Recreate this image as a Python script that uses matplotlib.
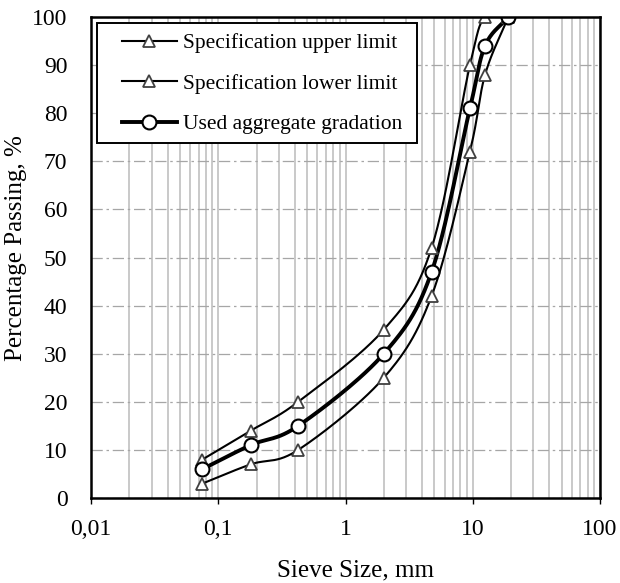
import numpy as np
import matplotlib
matplotlib.use("Agg")
import matplotlib.pyplot as plt
from matplotlib.patches import Rectangle
from matplotlib.ticker import FixedLocator, FuncFormatter, LogLocator, NullFormatter

plt.rcParams['font.family'] = ['Liberation Serif', 'DejaVu Serif']

# sieve sizes (mm) and percentage passing
sieve = [0.075, 0.18, 0.425, 2.0, 4.75, 9.5, 12.5, 19.0]
upper = [8, 14, 20, 35, 52, 90, 100, 100]
lower = [3, 7, 10, 25, 42, 72, 88, 100]
used = [6, 11, 15, 30, 47, 81, 94, 100]

x_ticks = [0.01, 0.1, 1, 10, 100]
x_labels = ['0,01', '0,1', '1', '10', '100']


# smooth line like Excel (Catmull-Rom through the points, in log-x space)
def smooth(xs, ys, n=30):
    lx = np.log10(np.array(xs, float))
    y = np.array(ys, float)
    px = np.concatenate([[2 * lx[0] - lx[1]], lx, [2 * lx[-1] - lx[-2]]])
    py = np.concatenate([[2 * y[0] - y[1]], y, [2 * y[-1] - y[-2]]])
    out_x, out_y = [], []
    t = np.linspace(0, 1, n)
    for i in range(1, len(px) - 2):
        for p, o in ((px, out_x), (py, out_y)):
            p0, p1, p2, p3 = p[i - 1], p[i], p[i + 1], p[i + 2]
            seg = 0.5 * ((2 * p1) + (-p0 + p2) * t + (2 * p0 - 5 * p1 + 4 * p2 - p3) * t ** 2
                         + (-p0 + 3 * p1 - 3 * p2 + p3) * t ** 3)
            o.extend(seg)
    return 10 ** np.array(out_x), np.array(out_y)


W, H = 620, 583
fig = plt.figure(figsize=(W / 100, H / 100), dpi=100)
ax = fig.add_axes([91 / W, 85 / H, 509 / W, 481 / H])

handles = []
for ys, lw, lab, mk in [(upper, 1.5, 'Specification upper limit', '^'),
                        (lower, 1.5, 'Specification lower limit', '^'),
                        (used, 2.8, 'Used aggregate gradation', 'o')]:
    sx, sy = smooth(sieve, ys)
    ax.plot(sx, sy, color='black', lw=lw, zorder=3)
    if mk == '^':
        style = dict(marker='^', ms=9, mfc='white', mec='#404040', mew=1.3)
    else:
        style = dict(marker='o', ms=10, mfc='white', mec='black', mew=1.5)
    ax.plot(sieve, ys, ls='none', zorder=4, **style)
    h, = ax.plot([], [], color='black', lw=lw, label=lab, **style)
    handles.append(h)

ax.set_xscale('log')
ax.set_xlim(0.01, 100)
ax.set_ylim(0, 100)
ax.set_yticks(range(0, 101, 10))
ax.xaxis.set_major_locator(FixedLocator(x_ticks))
ax.xaxis.set_major_formatter(FuncFormatter(lambda v, p: x_labels[x_ticks.index(v)] if v in x_ticks else ''))
ax.xaxis.set_minor_locator(LogLocator(base=10, subs=np.arange(2, 10)))
ax.xaxis.set_minor_formatter(NullFormatter())

ax.grid(axis='x', which='both', color='#c0c0c0', lw=1.2, ls='-', zorder=1)
ax.grid(axis='y', which='major', color='#a6a6a6', lw=0.9, ls=(0, (9, 3, 2, 3)), zorder=1)
ax.tick_params(axis='y', which='both', length=0, labelsize=17, pad=17)
ax.tick_params(axis='x', which='major', length=4, width=1, direction='out', labelsize=17, pad=11)
ax.tick_params(axis='x', which='minor', length=0)

for s in ax.spines.values():
    s.set_linewidth(1.8)
    s.set_color('black')
    s.set_zorder(5)

ax.set_xlabel('Sieve Size, mm', fontsize=18)
ax.set_ylabel('Percentage Passing, %', fontsize=18)
ax.xaxis.set_label_coords(0.52, -0.127)
ax.yaxis.set_label_coords(-0.125, 0.52)

# legend box as in the reference, with the entries placed inside it
fig.patches.append(Rectangle((97 / W, 1 - 143 / H), 320 / W, 120 / H, transform=fig.transFigure,
                             facecolor='white', edgecolor='black', lw=1.4, zorder=6))
leg = fig.legend(handles=handles, loc='upper left', bbox_to_anchor=(122 / W, 1 - 33 / H),
                 fontsize=15.5, frameon=False, handlelength=2.55, handletextpad=0.3,
                 borderpad=0, labelspacing=0.95, borderaxespad=0)
leg.set_zorder(7)

fig.savefig('out.png', dpi=100)
